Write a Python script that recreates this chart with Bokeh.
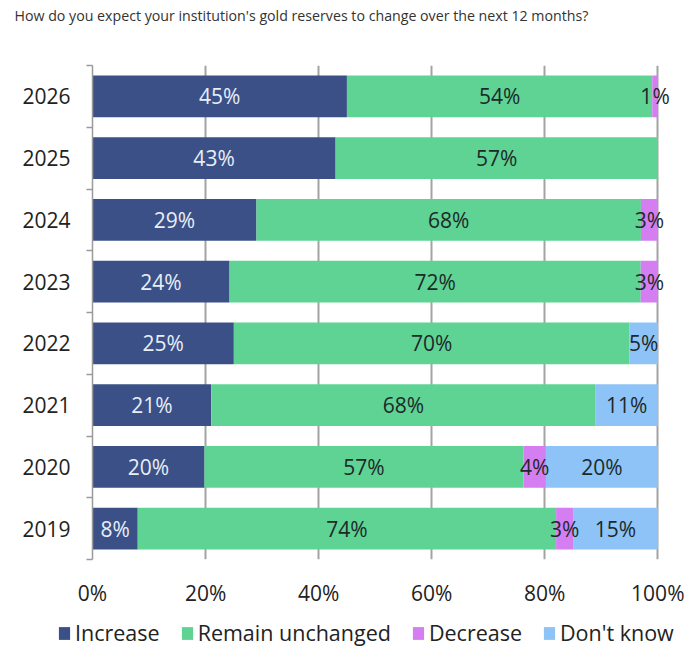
from bokeh.plotting import figure
from bokeh.layouts import column
from bokeh.models import (ColumnDataSource, Range1d, FixedTicker, Legend, LegendItem,
                          CustomJSTickFormatter, Label)
from bokeh.core.properties import value
from bokeh.embed import file_html
from bokeh.resources import INLINE

# ---- data ----
years = ["2019", "2020", "2021", "2022", "2023", "2024", "2025", "2026"]
increase = [8, 20, 21, 25, 24, 29, 43, 45]
remain = [74, 57, 68, 70, 72, 68, 57, 54]
decrease = [3, 4, 0, 0, 3, 3, 0, 1]
dont_know = [15, 20, 11, 5, 0, 0, 0, 0]
series_names = ["Increase", "Remain unchanged", "Decrease", "Don't know"]
x_ticks = [0, 20, 40, 60, 80, 100]
title_text = "How do you expect your institution's gold reserves to change over the next 12 months?"

colors = ["#3a5087", "#5fd394", "#d47ef2", "#8ec3f7"]
label_colors = ["#e8eef8", "#1c2a2a", "#1c2a2a", "#1c2a2a"]
FONT = "Open Sans"

series = [increase, remain, decrease, dont_know]
ypos = list(range(len(years)))
totals = [sum(s[i] for s in series) for i in range(len(years))]
keys = ["inc", "rem", "dec", "dk"]

data = {"y": ypos, "year": years}
for k, s in zip(keys, series):
    data[k] = [v / t * 100 for v, t in zip(s, totals)]
source = ColumnDataSource(data)

W = 684

# ---- title strip ----
tf = figure(width=W, height=30, output_backend="svg", toolbar_location=None,
            x_range=Range1d(0, 1), y_range=Range1d(0, 1),
            x_axis_type=None, y_axis_type=None, min_border=0)
tf.frame_align = False
tf.outline_line_color = None
tf.grid.grid_line_color = None
tf.add_layout(Label(x=14, y=15, x_units="screen", y_units="screen", text=title_text,
                    text_font=FONT, text_font_size="14.2px", text_color="#333333",
                    text_baseline="middle", text_align="left"))

# ---- main chart ----
p = figure(width=W, height=587, output_backend="svg", toolbar_location=None,
           x_range=Range1d(0, 104), y_range=Range1d(-0.5, len(years) - 0.5),
           min_border_left=92, min_border_right=4, min_border_top=35,
           min_border_bottom=58)
p.frame_align = False
p.outline_line_color = None
p.background_fill_color = "white"

renderers = p.hbar_stack(keys, y="y", height=0.675, color=colors, source=source,
                         line_color=None)

# segment labels
for si, (k, s) in enumerate(zip(keys, series)):
    xs, ys, txt = [], [], []
    for i in range(len(years)):
        if s[i] == 0:
            continue
        start = sum(data[kk][i] for kk in keys[:si])
        xs.append(start + data[k][i] / 2)
        ys.append(ypos[i])
        txt.append(f"{s[i]}%")
    p.text(x=xs, y=ys, text=txt, text_align="center", text_baseline="middle",
           text_font=value(FONT), text_font_size="21px", text_color=label_colors[si])

# x axis
p.xaxis.ticker = FixedTicker(ticks=x_ticks)
p.xaxis.formatter = CustomJSTickFormatter(code="return tick + '%'")
p.xaxis.axis_line_color = None
p.xaxis.major_tick_line_color = None
p.xaxis.minor_tick_line_color = None
p.xaxis.major_tick_out = 0
p.xaxis.major_label_standoff = 19
p.xaxis.major_label_text_font = FONT
p.xaxis.major_label_text_font_size = "21px"
p.xaxis.major_label_text_color = "#222222"

# y axis
p.yaxis.ticker = FixedTicker(ticks=ypos,
                             minor_ticks=[i - 0.5 for i in range(len(years) + 1)])
p.yaxis.major_label_overrides = {i: y for i, y in zip(ypos, years)}
p.yaxis.axis_line_color = "#9a9a9a"
p.yaxis.axis_line_width = 1.5
p.yaxis.major_tick_line_color = None
p.yaxis.major_tick_out = 0
p.yaxis.minor_tick_line_color = "#9a9a9a"
p.yaxis.minor_tick_line_width = 1.5
p.yaxis.minor_tick_out = 6
p.yaxis.minor_tick_in = 0
p.yaxis.major_label_standoff = 16
p.yaxis.major_label_text_font = FONT
p.yaxis.major_label_text_font_size = "21px"
p.yaxis.major_label_text_color = "#222222"

# grid
p.xgrid.grid_line_color = "#a3a3a3"
p.xgrid.grid_line_width = 2
p.xgrid.ticker = FixedTicker(ticks=x_ticks[1:])
p.ygrid.grid_line_color = None

# ---- legend strip (same series, zero-height bars outside the visible ranges) ----
lf = figure(width=W, height=30, output_backend="svg", toolbar_location=None,
            x_range=Range1d(-1001, -1000), y_range=Range1d(-1001, -1000),
            x_axis_type=None, y_axis_type=None, min_border=0)
lf.frame_align = False
lf.outline_line_color = None
lf.grid.grid_line_color = None
lf.xgrid.visible = False
lf.ygrid.visible = False
lrs = lf.hbar_stack(keys, y="y", height=0, color=colors, source=source, line_color=None)
legend = Legend(items=[LegendItem(label=n, renderers=[r]) for n, r in zip(series_names, lrs)],
                orientation="horizontal", location=(57, 0),
                glyph_width=14, glyph_height=16, label_standoff=4, spacing=20,
                padding=0, margin=0, border_line_color=None,
                background_fill_alpha=0,
                label_text_font=FONT, label_text_font_size="21.5px",
                label_text_color="#222222", label_height=16)
lf.add_layout(legend, "center")

open("out.html", "w").write(file_html(column(tf, p, lf), INLINE))
